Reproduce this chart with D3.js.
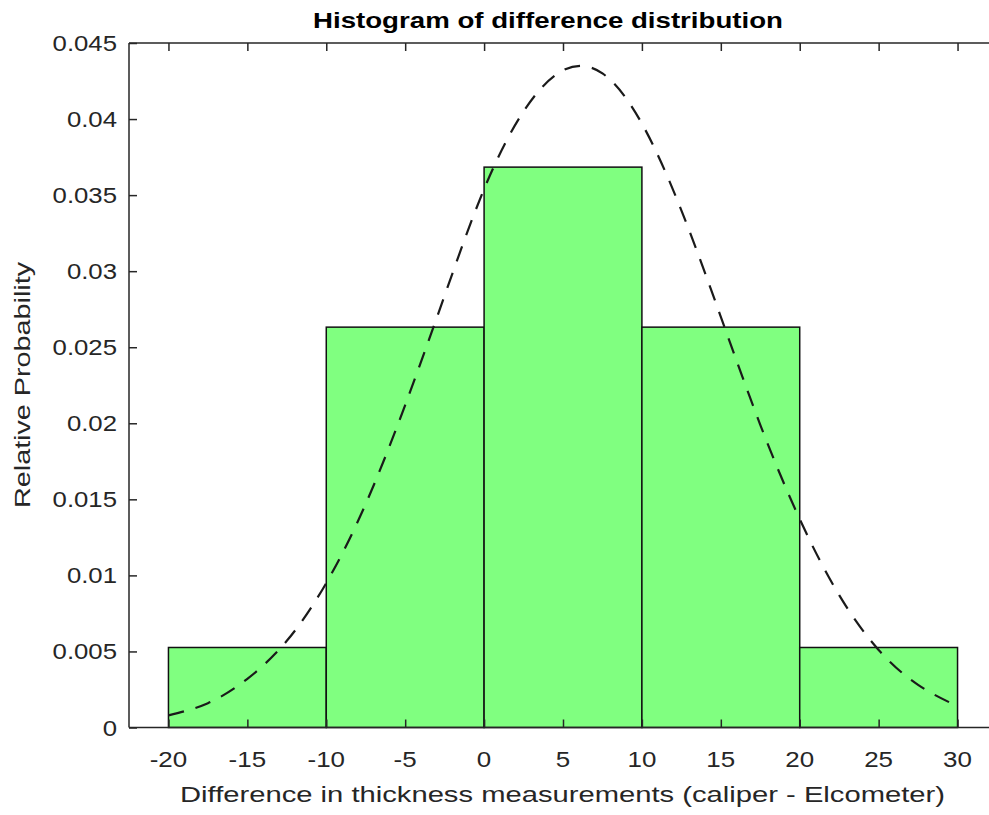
<!DOCTYPE html>
<html>
<head>
<meta charset="utf-8">
<script src="https://cdn.jsdelivr.net/npm/d3@7"></script>
<style>
  html, body { margin: 0; padding: 0; background: #fff; }
  svg { display: block; }
  text { font-family: "Liberation Sans", Arial, Helvetica, sans-serif; }
</style>
</head>
<body>
<svg id="chart" width="989" height="815"></svg>
<script>
// ---- data ----
const binEdges = [-20, -10, 0, 10, 20, 30];
const binValues = [0.00526, 0.02632, 0.03684, 0.02632, 0.00526];
const curveX = [-20, -17.5, -15, -12.5, -10, -7.5, -5, -2.5, 0, 2.5, 5, 7.5, 10, 12.5, 15, 17.5, 20, 22.5, 25, 27.5, 30];
const curveY = [0.0008, 0.0016, 0.0032, 0.0057, 0.0095, 0.0147, 0.0212, 0.0284, 0.0354, 0.0405, 0.0432, 0.0430, 0.0397, 0.0340, 0.0270, 0.0199, 0.0137, 0.0087, 0.0051, 0.0028, 0.0014];
const xTicks = [-20, -15, -10, -5, 0, 5, 10, 15, 20, 25, 30];
const yTicks = [0, 0.005, 0.01, 0.015, 0.02, 0.025, 0.03, 0.035, 0.04, 0.045];
const yTickLabels = ["0", "0.005", "0.01", "0.015", "0.02", "0.025", "0.03", "0.035", "0.04", "0.045"];
const titleText = "Histogram of difference distribution";
const xLabelText = "Difference in thickness measurements (caliper - Elcometer)";
const yLabelText = "Relative Probability";

(function () {
  // ---- layout ----
  const svg = d3.select("#chart");
  const pLeft = 129, pRight = 997, pTop = 43, pBottom = 727.5;
  const x = d3.scaleLinear().domain([-22.5, 32.5]).range([pLeft, pRight]);
  const y = d3.scaleLinear().domain([0, 0.045]).range([pBottom, pTop]);
  const axisColor = "#262626";
  const tickLen = 8;

  function stretch(sel, factor) {
    sel.each(function () {
      const len = this.getComputedTextLength();
      d3.select(this).attr("textLength", len * factor).attr("lengthAdjust", "spacingAndGlyphs");
    });
  }
  function fitTo(sel, width) {
    sel.attr("textLength", width).attr("lengthAdjust", "spacingAndGlyphs");
  }

  // bars
  const bins = binValues.map((v, i) => ({ x0: binEdges[i], x1: binEdges[i + 1], v }));
  svg.append("g").selectAll("rect").data(bins).join("rect")
    .attr("x", d => x(d.x0))
    .attr("width", d => x(d.x1) - x(d.x0))
    .attr("y", d => y(d.v))
    .attr("height", d => y(0) - y(d.v))
    .attr("fill", "#80ff80")
    .attr("stroke", "#111")
    .attr("stroke-width", 1.5);

  // fitted curve
  const pts = curveX.map((cx, i) => [cx, curveY[i]]);
  svg.append("path")
    .datum(pts)
    .attr("d", d3.line().x(d => x(d[0])).y(d => y(d[1])).curve(d3.curveNatural))
    .attr("fill", "none")
    .attr("stroke", "#1a1a1a")
    .attr("stroke-width", 2.2)
    .attr("stroke-dasharray", "16,12");

  // axes (inward ticks)
  const xBottom = d3.axisBottom(x).tickValues(xTicks).tickSize(-tickLen).tickFormat("");
  const xTop = d3.axisTop(x).tickValues(xTicks).tickSize(-tickLen).tickFormat("");
  const yLeft = d3.axisLeft(y).tickValues(yTicks).tickSize(-tickLen).tickFormat("");
  const yRight = d3.axisRight(y).tickValues(yTicks).tickSize(-tickLen).tickFormat("");

  function styleAxis(g) {
    g.selectAll("path.domain").attr("stroke", axisColor).attr("stroke-width", 1.5);
    g.selectAll(".tick line").attr("stroke", axisColor).attr("stroke-width", 1.5);
  }
  svg.append("g").attr("transform", `translate(0,${pBottom})`).call(xBottom)
    .call(g => g.selectAll("path.domain").attr("d", `M${pLeft},0H${pRight}`)).call(styleAxis);
  svg.append("g").attr("transform", `translate(0,${pTop})`).call(xTop)
    .call(g => g.selectAll("path.domain").attr("d", `M${pLeft},0H${pRight}`)).call(styleAxis);
  svg.append("g").attr("transform", `translate(${pLeft},0)`).call(yLeft)
    .call(g => g.selectAll("path.domain").attr("d", `M0,${pTop}V${pBottom}`)).call(styleAxis);
  svg.append("g").attr("transform", `translate(${pRight},0)`).call(yRight)
    .call(g => g.selectAll("path.domain").attr("d", `M0,${pTop}V${pBottom}`)).call(styleAxis);

  // tick labels
  const xl = svg.append("g").selectAll("text").data(xTicks).join("text")
    .attr("x", d => x(d))
    .attr("y", 766.5)
    .attr("text-anchor", "middle")
    .attr("font-size", 22)
    .attr("fill", axisColor)
    .text(d => String(d));
  stretch(xl, 1.18);

  const yl = svg.append("g").selectAll("text").data(yTicks).join("text")
    .attr("x", 117)
    .attr("y", d => y(d) + 8)
    .attr("text-anchor", "end")
    .attr("font-size", 22)
    .attr("fill", axisColor)
    .text((d, i) => yTickLabels[i]);
  stretch(yl, 1.17);

  // title
  const t = svg.append("text")
    .attr("x", 548).attr("y", 28)
    .attr("text-anchor", "middle")
    .attr("font-size", 22)
    .attr("font-weight", "bold")
    .attr("fill", "#000")
    .text(titleText);
  fitTo(t, 470);

  // x label
  const xlab = svg.append("text")
    .attr("x", 562.5).attr("y", 801.5)
    .attr("text-anchor", "middle")
    .attr("font-size", 22)
    .attr("fill", axisColor)
    .text(xLabelText);
  fitTo(xlab, 765);

  // y label
  const ylab = svg.append("text")
    .attr("transform", "translate(29.5,385) rotate(-90)")
    .attr("text-anchor", "middle")
    .attr("font-size", 22)
    .attr("fill", axisColor)
    .text(yLabelText);
  fitTo(ylab, 246);
})();
</script>
</body>
</html>
